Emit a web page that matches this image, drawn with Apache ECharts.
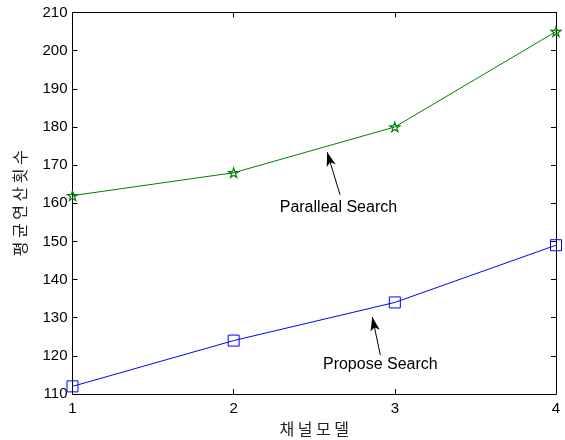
<!DOCTYPE html>
<html><head><meta charset="utf-8">
<script src="https://cdn.jsdelivr.net/npm/echarts@6/dist/echarts.min.js"></script>
<style>html,body{margin:0;padding:0;background:#fff}#c{width:565px;height:440px}</style>
</head><body><div id="c"></div>
<script>
var categories = [1, 2, 3, 4];
var parallelSearch = [162, 168, 180, 205];
var proposeSearch = [112, 124, 134, 149];
var yTicks = [110, 120, 130, 140, 150, 160, 170, 180, 190, 200, 210];
var xName = '채 널 모 델';
var yName = '평 균 연 산 횟 수';
var parallelLabel = 'Paralleal Search';
var proposeLabel = 'Propose Search';

var star = 'path://M0 -1 L0.2245 -0.309 L0.951 -0.309 L0.363 0.118 L0.588 0.809 L0 0.382 L-0.588 0.809 L-0.363 0.118 L-0.951 -0.309 L-0.2245 -0.309 Z';
var font = '"Liberation Sans", Arial, sans-serif';
var chart = echarts.init(document.getElementById('c'));
function pairs(v){ return categories.map(function(c,i){ return [c, v[i]]; }); }
var axBase = {
  axisLine:{show:true, lineStyle:{color:'#000', width:1}},
  axisTick:{show:true, inside:true, length:5, lineStyle:{color:'#000'}},
  splitLine:{show:false}
};
chart.setOption({
  animation:false,
  backgroundColor:'#fff',
  grid:{left:72.5, right:9, top:12.5, bottom:46, containLabel:false, outerBoundsMode:'none'},
  xAxis:[
    Object.assign({type:'value', min:1, max:4, interval:1, position:'bottom',
      name:xName, nameLocation:'middle', nameGap:26,
      nameTextStyle:{fontFamily:'"Noto Sans CJK KR", sans-serif', fontSize:16, color:'#222'},
      axisLabel:{fontFamily:font, fontSize:15, color:'#000', margin:7}}, axBase),
    Object.assign({type:'value', min:1, max:4, interval:1, position:'top', axisLabel:{show:false}}, axBase)
  ],
  yAxis:[
    Object.assign({type:'value', min:yTicks[0], max:yTicks[yTicks.length-1], interval:10, position:'left',
      name:yName, nameLocation:'middle', nameGap:45,
      nameTextStyle:{fontFamily:'"Noto Sans CJK KR", sans-serif', fontSize:16, color:'#222'},
      axisLabel:{fontFamily:font, fontSize:15, color:'#000', margin:5}}, axBase),
    Object.assign({type:'value', min:yTicks[0], max:yTicks[yTicks.length-1], interval:10, position:'right', axisLabel:{show:false}}, axBase)
  ],
  series:[
    {type:'line', data:pairs(parallelSearch), symbol:star, symbolKeepAspect:true, symbolSize:10,
      lineStyle:{color:'#008000', width:1}, itemStyle:{color:'rgba(0,0,0,0)', borderColor:'#008000', borderWidth:1.2},
      markLine:{silent:true, symbol:['none','arrow'], symbolSize:[7,14], label:{show:false},
        lineStyle:{color:'#000', width:1, type:'solid'},
        data:[[{coord:[2.66,162.2]},{coord:[2.58,173.4]}]]}},
    {type:'line', data:pairs(proposeSearch), symbol:'rect', symbolSize:11,
      lineStyle:{color:'#0000ff', width:1}, itemStyle:{color:'rgba(0,0,0,0)', borderColor:'#0000ff', borderWidth:1},
      markLine:{silent:true, symbol:['none','arrow'], symbolSize:[7,14], label:{show:false},
        lineStyle:{color:'#000', width:1, type:'solid'},
        data:[[{coord:[2.91,120.2]},{coord:[2.86,130.2]}]]}}
  ]
});
var p1 = chart.convertToPixel({xAxisIndex:0, yAxisIndex:0}, [2.65, 158.8]);
var p2 = chart.convertToPixel({xAxisIndex:0, yAxisIndex:0}, [2.91, 117.8]);
chart.setOption({graphic:[
  {type:'text', x:p1[0], y:p1[1], style:{text:parallelLabel, font:'16px '+font, fill:'#000', textAlign:'center', textVerticalAlign:'middle'}},
  {type:'text', x:p2[0], y:p2[1], style:{text:proposeLabel, font:'16px '+font, fill:'#000', textAlign:'center', textVerticalAlign:'middle'}}
]});
</script></body></html>
